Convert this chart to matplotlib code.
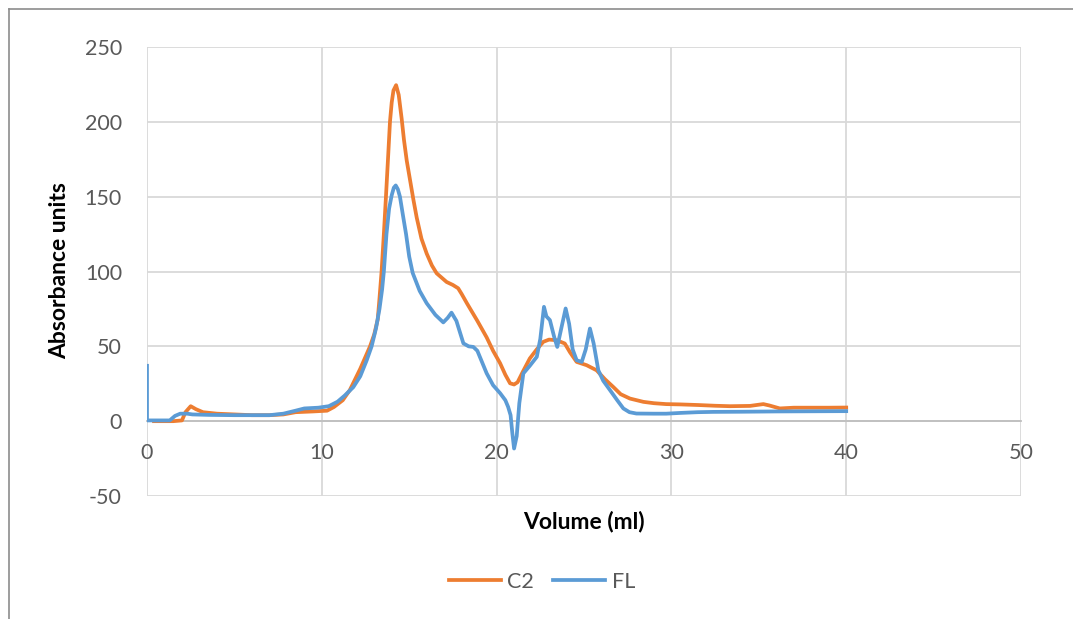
import matplotlib
matplotlib.use('Agg')
import matplotlib.pyplot as plt
from matplotlib.lines import Line2D

plt.rcParams['font.family'] = ['Lato', 'DejaVu Sans']
plt.rcParams['axes.unicode_minus'] = False

# C2 trace (volume ml, absorbance)
c2_x = [0.4, 1.5, 2.0, 2.2, 2.5, 2.8, 3.2, 4.0, 5.0, 6.0, 7.0, 7.8, 8.5, 9.5, 10.3,
        10.7, 11.2, 11.6, 12.2, 12.76, 13.0, 13.2, 13.3, 13.42, 13.55, 13.67, 13.8,
        13.9, 14.0, 14.1, 14.25, 14.4, 14.57, 14.7, 14.86, 15.05, 15.24, 15.43, 15.7,
        16.0, 16.3, 16.57, 17.14, 17.5, 17.8, 18.0, 18.3, 18.9, 19.43, 19.8, 20.2,
        20.5, 20.77, 21.0, 21.2, 21.5, 21.9, 22.3, 22.67, 23.0, 23.43, 23.9, 24.2,
        24.58, 25.15, 25.72, 26.2, 26.67, 27.1, 27.63, 28.4, 29.0, 29.7, 30.5, 31.5,
        32.5, 33.35, 34.5, 35.0, 35.26, 35.6, 36.2, 37.0, 38.0, 39.0, 40.0]
c2_y = [0, 0, 0.5, 6, 10, 8, 6, 5, 4.5, 4, 4, 4.5, 6, 6.5, 7,
        9.5, 14, 20.7, 35, 50, 58, 68, 82, 100, 125, 150, 178,
        200, 213, 221, 224.5, 218, 202, 188, 174, 161, 148, 136, 122,
        112, 104, 98.8, 93, 91, 88.8, 85, 78.8, 67, 56, 47, 38.7,
        31, 25.3, 24.5, 26, 33, 41.9, 48, 53, 54.5, 54.1, 51.9, 46,
        39.6, 37.4, 34, 28, 22.9, 18, 15.1, 12.9, 12, 11.4, 11.2, 10.8,
        10.3, 10, 10.2, 11, 11.4, 10.5, 8.5, 9, 9, 9, 9.1]

# FL trace
fl_x = [0.0, 0.0, 0.5, 1.3, 1.6, 1.9, 2.3, 2.6, 3.5, 5.0, 7.0, 7.8, 8.5, 9.0, 9.8,
        10.4, 10.9, 11.3, 11.8, 12.2, 12.57, 12.85, 13.1, 13.3, 13.45, 13.55, 13.7,
        13.85, 14.0, 14.12, 14.23, 14.35, 14.47, 14.65, 14.82, 15.0, 15.2, 15.6, 16.0,
        16.5, 16.95, 17.2, 17.42, 17.7, 18.1, 18.4, 18.67, 18.9, 19.43, 19.8, 20.2,
        20.5, 20.66, 20.8, 20.9, 21.0, 21.15, 21.3, 21.53, 21.9, 22.3, 22.5, 22.71,
        22.85, 23.05, 23.3, 23.47, 23.7, 23.95, 24.15, 24.35, 24.58, 24.87, 25.1,
        25.34, 25.55, 25.82, 26.1, 26.49, 26.9, 27.25, 27.6, 28.0, 29.0, 29.7, 30.5,
        31.5, 32.4, 34.0, 36.0, 38.0, 40.0]
fl_y = [37, 0.5, 0.5, 0.5, 3.5, 5, 5, 4.5, 4.2, 4, 4, 5, 7, 8.5, 9,
        10, 13, 17, 22.7, 30, 40.7, 50, 62, 75, 88, 100, 125,
        142, 151, 156, 157.5, 155, 150, 137, 125, 110, 99, 87, 78.8,
        71, 66, 69, 72.5, 67, 52, 50, 49.6, 47, 32, 24, 18.7,
        14, 9.5, 4, -8, -18.3, -10, 12, 31.9, 37, 43, 55, 76.4,
        70, 67.5, 56, 49.6, 62, 75.3, 65, 48, 40.7, 39.6, 48,
        61.9, 52, 34, 27, 20.7, 14, 8.5, 6, 5.1, 5, 5, 5.5,
        6, 6.2, 6.3, 6.5, 6.6, 6.7]

xticks = [0, 10, 20, 30, 40, 50]
yticks = [-50, 0, 50, 100, 150, 200, 250]

orange = '#ED7D31'
blue = '#5B9BD5'
grid_c = '#D9D9D9'
tick_c = '#595959'
lw = 2.7

fig = plt.figure(figsize=(10.73, 6.19), dpi=100)
ax = fig.add_axes([147/1073, 1 - 496/619, (1021-147)/1073, (496-47)/619])

ax.plot(c2_x, c2_y, color=orange, lw=lw, label='C2', solid_joinstyle='round')
ax.plot(fl_x, fl_y, color=blue, lw=lw, label='FL', solid_joinstyle='round')

ax.set_xlim(0, 50)
ax.set_ylim(-50, 250)
ax.set_xticks(xticks)
ax.set_yticks(yticks)
ax.grid(True, color=grid_c, lw=1.3)
ax.set_axisbelow(True)

for s in ['top', 'right', 'left']:
    ax.spines[s].set_visible(False)
ax.spines['bottom'].set_position(('data', 0))
ax.spines['bottom'].set_color('#BFBFBF')
ax.spines['bottom'].set_linewidth(1.3)
ax.spines['bottom'].set_zorder(1)

ax.tick_params(axis='both', length=0, labelsize=15.5, labelcolor=tick_c)
ax.tick_params(axis='x', pad=16)
ax.tick_params(axis='y', pad=18)

fig.text(60/1073, 1 - 271/619, 'Absorbance units', rotation=90, ha='center', va='center',
         fontsize=16.5, fontweight='bold', color='#000000')
fig.text(584/1073, 1 - 521/619, 'Volume (ml)', ha='center', va='center',
         fontsize=16.5, fontweight='bold', color='#000000')

handles = [Line2D([], [], color=orange, lw=lw), Line2D([], [], color=blue, lw=lw)]
fig.legend(handles, ['C2', 'FL'], loc='center', bbox_to_anchor=(542/1073, 1 - 582/619),
           ncol=2, frameon=False, fontsize=15.5, handlelength=2.4, handletextpad=0.3,
           columnspacing=0.9, labelcolor=tick_c)

# outer chart border (top and left edges visible)
fig.add_artist(Line2D([8.5/1073, 1], [1 - 9/619, 1 - 9/619], transform=fig.transFigure,
                      color='#8C8C8C', lw=1.2))
fig.add_artist(Line2D([8.5/1073, 8.5/1073], [0, 1 - 9/619], transform=fig.transFigure,
                      color='#8C8C8C', lw=1.2))

fig.savefig('out.png', dpi=100)
